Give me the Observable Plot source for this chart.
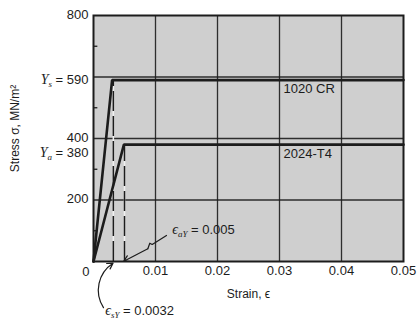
<!DOCTYPE html>
<html>
<head>
<meta charset="utf-8">
<script src="https://cdn.jsdelivr.net/npm/d3@7"></script>
<script src="https://cdn.jsdelivr.net/npm/@observablehq/plot@0.6"></script>
<style>
  html, body { margin: 0; padding: 0; background: #fff; }
</style>
</head>
<body>
<div id="chart"></div>
<script>
// ---- data ----
const materials = ["1020 CR", "2024-T4"];
const yieldStress = [590, 380];          // MN/m^2
const yieldStrain = [0.0032, 0.005];     // dashed markers
const curvePeakStrain = [0.003, 0.0049]; // where the drawn lines reach the plateau
const yieldSub = ["s", "a"];
const maxStrain = 0.05;
const xTicks = [0.01, 0.02, 0.03, 0.04, 0.05];
const xGrid = [0.01, 0.02, 0.03, 0.04];
const yTicks = [200, 400, 800];
const yGrid = [200, 400, 600];
const yMinor = [100, 300, 500, 700];
const annotA = { label: "ϵ_{aY} = 0.005", x: 0.0127, y: 104,
  zig: [[0.01177, 84.6], [0.00947, 55.3], [0.00908, 59.5], [0.00876, 41.3]],
  tip: [0.00489, 1.0] };
const annotS = { label: "ϵ_{sY} = 0.0032", x: 0.0019, y: -160,
  from: [0.00161, -150], tip: [0.00315, -5.5] };

const mat = materials.map((name, i) => ({ name, Y: yieldStress[i], eY: yieldStrain[i], eP: curvePeakStrain[i], sub: yieldSub[i] }));
const curves = mat.flatMap(m => [
  { name: m.name, x: 0, y: 0 },
  { name: m.name, x: m.eP, y: m.Y },
  { name: m.name, x: maxStrain, y: m.Y }
]);

const ink = "#1c1c1c";
const font = "'Liberation Sans', Arial, Helvetica, sans-serif";

const chart = Plot.plot({
  width: 419,
  height: 320,
  marginLeft: 93,
  marginRight: 16,
  marginTop: 15,
  marginBottom: 59,
  x: { domain: [0, maxStrain], label: null },
  y: { domain: [0, 800], label: null },
  style: { fontFamily: font, fontSize: "13px", color: ink, background: "#fff", overflow: "visible" },
  marks: [
    Plot.frame({ fill: "#cfcfcf", stroke: null }),
    Plot.ruleX(xGrid, { stroke: ink, strokeWidth: 1.3, strokeOpacity: 0.9 }),
    Plot.ruleY(yGrid, { stroke: ink, strokeWidth: 1.3, strokeOpacity: 0.9 }),
    Plot.ruleY(yMinor, { x1: 0, x2: 0.0007, stroke: ink, strokeWidth: 1.3 }),
    Plot.ruleX(mat, { x: "eY", y1: 0, y2: "Y", stroke: "#f2f2f2", strokeWidth: 1.5 }),
    Plot.ruleX(mat, { x: "eY", y1: 0, y2: "Y", stroke: ink, strokeWidth: 1.5, strokeDasharray: "20,5" }),
    Plot.line(curves, { x: "x", y: "y", z: "name", stroke: ink, strokeWidth: 2.6, strokeLinejoin: "miter" }),
    Plot.frame({ stroke: ink, strokeWidth: 2 }),
    Plot.axisY(yTicks, { tickSize: 0, tickPadding: 5, fontSize: 13, label: null, dy: -1 }),
    Plot.axisX(xTicks, { tickSize: 0, tickPadding: 4, fontSize: 13, label: null, tickFormat: d3.format(".2f") }),
    Plot.text([0], { x: 0, y: 0, text: d => String(d), textAnchor: "end", dx: -4, dy: 10, fontSize: 13 }),
    Plot.text(mat.slice(0, 1), { x: 0, y: "Y", text: d => `Y_{${d.sub}} = ${d.Y}`, textAnchor: "end", dx: -5, dy: 0, fontSize: 13 }),
    Plot.text(mat.slice(1, 2), { x: 0, y: "Y", text: d => `Y_{${d.sub}} = ${d.Y}`, textAnchor: "end", dx: -5, dy: 8, fontSize: 13 }),
    Plot.text(mat, { x: 0.03, y: "Y", text: "name", textAnchor: "start", dx: 4, dy: 9, fontSize: 13 }),
    Plot.text(["Strain, ϵ"], { frameAnchor: "bottom", lineAnchor: "middle", dy: 33, fontSize: 12 }),
    Plot.text(["Stress σ, MN/m²"], { frameAnchor: "left", textAnchor: "middle", lineAnchor: "middle", rotate: -90, dx: -78, dy: -10, fontSize: 12 }),
    // annotations
    Plot.text([annotA], { x: "x", y: "y", text: "label", textAnchor: "start", fontSize: 13 }),
    Plot.line(annotA.zig, { x: d => d[0], y: d => d[1], stroke: ink, strokeWidth: 1.2 }),
    Plot.arrow([annotA], { x1: d => d.zig[3][0], y1: d => d.zig[3][1], x2: d => d.tip[0], y2: d => d.tip[1], stroke: ink, strokeWidth: 1.2, headLength: 8 }),
    Plot.text([annotS], { x: "x", y: "y", text: "label", textAnchor: "start", fontSize: 13 }),
    Plot.arrow([annotS], { x1: d => d.from[0], y1: d => d.from[1], x2: d => d.tip[0], y2: d => d.tip[1], bend: 45, stroke: ink, strokeWidth: 1.2, headLength: 8 })
  ]
});

// rich text: "B_{sub} rest" -> italic serif base letter with subscript
d3.select(chart).selectAll("text").each(function () {
  const t = this.textContent;
  const m = /^(.)_\{([^}]*)\}(.*)$/.exec(t);
  if (!m) return;
  const el = d3.select(this);
  el.text(null);
  el.append("tspan").attr("font-family", "'Liberation Serif', 'Times New Roman', serif")
    .attr("font-style", "italic").attr("font-size", 14).text(m[1]);
  el.append("tspan").attr("font-family", "'Liberation Serif', 'Times New Roman', serif")
    .attr("font-style", "italic").attr("font-size", 9).attr("dy", 3).text(m[2]);
  el.append("tspan").attr("dy", -3).text(m[3]);
});

document.getElementById("chart").appendChild(chart);
</script>
</body>
</html>
